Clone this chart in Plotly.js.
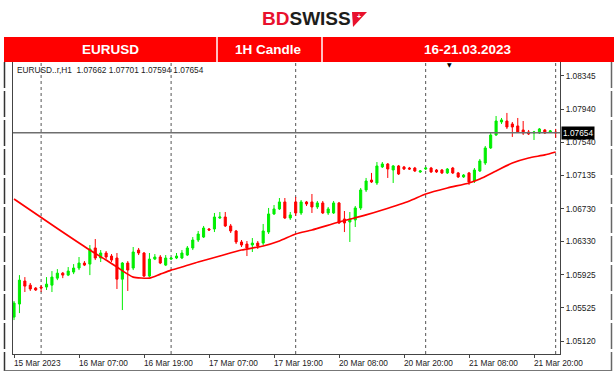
<!DOCTYPE html>
<html><head><meta charset="utf-8">
<script src="https://cdn.plot.ly/plotly-3.0.1.min.js"></script>
<style>html,body{margin:0;padding:0;background:#fff;} #chart{width:616px;height:374px;}</style>
</head><body><div id="chart"></div>
<script>
// ---- data (EURUSD H1, bar index 0 = 15 Mar 19:00) ----
const symbolLabel = 'EURUSD..r,H1';
const openP = [
1.05411,1.05570,1.05850,1.05800,1.05764,1.05777,1.05777,1.05800,1.05885,1.05946,
1.05922,1.05959,1.06008,1.06069,1.06056,1.06252,1.06130,1.06191,1.06154,1.06130,
1.05873,1.06069,1.06008,1.06227,1.06191,1.05910,1.06117,1.06142,1.06044,1.06117,
1.06130,1.06130,1.06166,1.06252,1.06349,1.06385,1.06483,1.06483,1.06617,1.06629,
1.06520,1.06459,1.06325,1.06300,1.06288,1.06312,1.06312,1.06446,1.06666,1.06727,
1.06812,1.06617,1.06812,1.06678,1.06812,1.06812,1.06751,1.06800,1.06678,1.06678,
1.06800,1.06605,1.06568,1.06593,1.06739,1.06958,1.07079,1.07043,1.07238,1.07274,
1.07201,1.07250,1.07238,1.07225,1.07225,1.07177,1.07213,1.07225,1.07201,1.07201,
1.07165,1.07225,1.07165,1.07116,1.07165,1.07067,1.07189,1.07286,1.07469,1.07627,
1.07785,1.07797,1.07761,1.07737,1.07688,1.07664,1.07651,1.07651,1.07688,1.07664,
1.07662];
const highP = [
1.05607,1.05922,1.05898,1.05826,1.05777,1.05800,1.05898,1.05971,1.05995,1.05959,
1.06020,1.06056,1.06142,1.06093,1.06288,1.06361,1.06227,1.06215,1.06178,1.06191,
1.06081,1.06093,1.06264,1.06252,1.06203,1.06191,1.06178,1.06166,1.06166,1.06142,
1.06191,1.06227,1.06276,1.06385,1.06459,1.06520,1.06495,1.06678,1.06690,1.06690,
1.06544,1.06471,1.06349,1.06337,1.06373,1.06337,1.06544,1.06739,1.06775,1.06860,
1.06860,1.06690,1.06872,1.06836,1.06824,1.06909,1.06824,1.06824,1.06751,1.06824,
1.06812,1.06702,1.06690,1.06763,1.06982,1.07104,1.07165,1.07298,1.07298,1.07286,
1.07262,1.07262,1.07250,1.07238,1.07238,1.07201,1.07238,1.07238,1.07213,1.07213,
1.07225,1.07238,1.07177,1.07152,1.07177,1.07225,1.07335,1.07493,1.07651,1.07858,
1.07834,1.07895,1.07785,1.07834,1.07797,1.07688,1.07676,1.07712,1.07700,1.07688,
1.07701];
const lowP = [
1.05375,1.05460,1.05716,1.05729,1.05729,1.05716,1.05741,1.05716,1.05861,1.05885,
1.05910,1.05934,1.05983,1.06032,1.05922,1.06105,1.06081,1.06117,1.06081,1.05753,
1.05497,1.05729,1.05983,1.06166,1.05898,1.05898,1.06105,1.06056,1.06032,1.06105,
1.06117,1.06117,1.06154,1.06227,1.06325,1.06373,1.06459,1.06446,1.06605,1.06507,
1.06434,1.06300,1.06264,1.06154,1.06203,1.06240,1.06288,1.06422,1.06654,1.06714,
1.06605,1.06593,1.06641,1.06654,1.06763,1.06678,1.06727,1.06666,1.06654,1.06666,
1.06544,1.06446,1.06325,1.06507,1.06714,1.06933,1.07043,1.07019,1.07225,1.07104,
1.07043,1.07140,1.07201,1.07201,1.07177,1.07165,1.07201,1.07165,1.07165,1.07152,
1.07152,1.07152,1.07104,1.07104,1.07019,1.07043,1.07177,1.07262,1.07457,1.07615,
1.07761,1.07700,1.07603,1.07651,1.07627,1.07627,1.07566,1.07639,1.07639,1.07651,
1.07594];
const closeP = [
1.05582,1.05861,1.05788,1.05753,1.05741,1.05764,1.05812,1.05898,1.05946,1.05922,
1.05971,1.06008,1.06069,1.06044,1.06240,1.06130,1.06191,1.06142,1.06105,1.05873,
1.06069,1.05983,1.06203,1.06191,1.05910,1.06117,1.06142,1.06069,1.06130,1.06130,
1.06154,1.06191,1.06252,1.06349,1.06422,1.06495,1.06471,1.06629,1.06629,1.06520,
1.06459,1.06325,1.06288,1.06252,1.06312,1.06276,1.06459,1.06666,1.06727,1.06812,
1.06617,1.06654,1.06678,1.06812,1.06787,1.06751,1.06800,1.06678,1.06727,1.06800,
1.06556,1.06556,1.06605,1.06739,1.06958,1.07067,1.07055,1.07250,1.07274,1.07213,
1.07250,1.07152,1.07213,1.07213,1.07189,1.07189,1.07225,1.07177,1.07177,1.07165,
1.07213,1.07165,1.07116,1.07140,1.07055,1.07201,1.07311,1.07469,1.07627,1.07797,
1.07810,1.07724,1.07724,1.07664,1.07651,1.07639,1.07664,1.07700,1.07651,1.07676,
1.07654];

// moving average line, read at selected bars
const maIdx = [0, 8, 14, 17, 19, 21, 22, 25, 27, 29, 31, 34, 38, 42, 46, 49, 52, 55, 60, 65, 68, 73, 76, 80, 84, 86, 89, 92, 95, 98, 100];
const maVal = [1.06848, 1.06489, 1.06227, 1.06105, 1.06020, 1.05934, 1.05898, 1.05885, 1.05934, 1.05983, 1.06020, 1.06081, 1.06154, 1.06227, 1.06276, 1.06337, 1.06422, 1.06471, 1.06568, 1.06654, 1.06714, 1.06824, 1.06909, 1.06982, 1.07043, 1.07091, 1.07189, 1.07286, 1.07347, 1.07384, 1.07420];

// axes
const xTickIdx = [0, 12, 24, 36, 48, 60, 72, 84, 96];
const xTickLabels = ['15 Mar 2023','16 Mar 07:00','16 Mar 19:00','17 Mar 07:00','17 Mar 19:00','20 Mar 08:00','20 Mar 20:00','21 Mar 08:00','21 Mar 20:00'];
const yTickVals = [1.05120, 1.05525, 1.05925, 1.06330, 1.06730, 1.07135, 1.07540, 1.07940, 1.08345];
const dayStartIdx = [5, 29, 52, 76, 100];

const headerCells = ['EURUSD', '1H Candle', '16-21.03.2023'];

// ---- build ----
const barIdx = openP.map((_, i) => i);
const last = openP.length - 1;
const bidPrice = closeP[last];

const W = 616, H = 374, mL = 13, mR = 56, mT = 62, mB = 20;
const pw = W - mL - mR, ph = H - mT - mB;
const px = X => (X - mL) / pw;
const py = Y => (H - mB - Y) / ph;
const FONT = 'Liberation Sans, Arial, sans-serif';

const traces = [
  {
    type: 'candlestick', x: barIdx, open: openP, high: highP, low: lowP, close: closeP,
    increasing: {line: {color: '#00ee00', width: 1}, fillcolor: '#00ee00'},
    decreasing: {line: {color: '#ff0000', width: 1}, fillcolor: '#ff0000'},
    whiskerwidth: 0, hoverinfo: 'skip', showlegend: false
  },
  {
    type: 'scatter', mode: 'lines', x: maIdx, y: maVal,
    line: {color: '#ff0000', width: 1.7, shape: 'spline', smoothing: 0.6},
    hoverinfo: 'skip', showlegend: false
  }
];

const shapes = [];
dayStartIdx.forEach(d => shapes.push({
  type: 'line', xref: 'x', yref: 'paper', x0: d, x1: d, y0: 0, y1: 1,
  line: {color: '#555', width: 1, dash: 'dot'}, layer: 'below'
}));
shapes.push({type: 'line', xref: 'paper', yref: 'y', x0: 0, x1: 1, y0: bidPrice, y1: bidPrice,
  line: {color: '#6e6e6e', width: 1.5}, layer: 'above'});
// header red bar
shapes.push({type: 'rect', xref: 'paper', yref: 'paper', x0: px(4), x1: px(614), y0: py(62), y1: py(37),
  fillcolor: '#ff0000', line: {width: 0}});
[217, 322].forEach(X => shapes.push({type: 'line', xref: 'paper', yref: 'paper', x0: px(X), x1: px(X), y0: py(62), y1: py(37),
  line: {color: '#ffffff', width: 1.5}}));
// outer frame
shapes.push({type: 'line', xref: 'paper', yref: 'paper', x0: px(4.5), x1: px(4.5), y0: py(62), y1: py(371),
  line: {color: '#333', width: 1.5, dash: '26px,3px'}});
shapes.push({type: 'line', xref: 'paper', yref: 'paper', x0: px(611.5), x1: px(611.5), y0: py(62), y1: py(371),
  line: {color: '#666', width: 1.5, dash: '26px,3px'}});
shapes.push({type: 'line', xref: 'paper', yref: 'paper', x0: px(4.5), x1: px(611.5), y0: py(370.5), y1: py(370.5),
  line: {color: '#777', width: 1.2}});
// logo flag
shapes.push({type: 'path', xref: 'paper', yref: 'paper',
  path: `M ${px(352)} ${py(12)} L ${px(367)} ${py(12)} L ${px(353)} ${py(27)} Z`,
  fillcolor: '#e8112d', line: {width: 0}});

const annotations = [];
xTickIdx.forEach((t, i) => annotations.push({
  xref: 'x', yref: 'paper', x: t, y: py(362.5), text: xTickLabels[i], showarrow: false,
  xanchor: 'left', yanchor: 'middle', xshift: -2, font: {family: FONT, size: 8.3, color: '#222'}
}));
annotations.push({xref: 'paper', yref: 'y', x: 1, y: bidPrice, text: bidPrice.toFixed(5), showarrow: false,
  xanchor: 'left', yanchor: 'middle', xshift: 1, bgcolor: '#000', borderpad: 1,
  font: {family: FONT, size: 8.3, color: '#fff'}});
annotations.push({xref: 'paper', yref: 'paper', x: px(15), y: py(70.5), showarrow: false,
  xanchor: 'left', yanchor: 'middle',
  text: symbolLabel + '\u00a0\u00a0' + [openP[last], highP[last], lowP[last], closeP[last]].map(v => v.toFixed(5)).join(' '),
  font: {family: FONT, size: 8.3, color: '#222'}});
annotations.push({xref: 'paper', yref: 'paper', x: px(449), y: py(64.5), text: '▼', showarrow: false,
  xanchor: 'center', yanchor: 'middle', font: {family: 'DejaVu Sans', size: 6, color: '#000'}});
const headerX = [110, 268, 468];
headerCells.forEach((t, i) => annotations.push({
  xref: 'paper', yref: 'paper', x: px(headerX[i]), y: py(49.5), text: '<b>' + t + '</b>', showarrow: false,
  xanchor: 'center', yanchor: 'middle', font: {family: FONT, size: 13.5, color: '#fff'}
}));
annotations.push({xref: 'paper', yref: 'paper', x: px(306), y: py(18.5), showarrow: false,
  xanchor: 'center', yanchor: 'middle',
  text: '<b><span style="color:#e8112d">BD</span><span style="color:#1d1d1b">SWISS</span></b>',
  font: {family: FONT, size: 19, color: '#1d1d1b'}});
annotations.push({xref: 'paper', yref: 'paper', x: px(358.5), y: py(17), text: '<b>+</b>', showarrow: false,
  xanchor: 'center', yanchor: 'middle', font: {family: FONT, size: 7, color: '#fff'}});

const layout = {
  width: W, height: H,
  margin: {l: mL, r: mR, t: mT, b: mB, pad: 0},
  paper_bgcolor: '#fff', plot_bgcolor: '#fff',
  showlegend: false, boxgap: 0.45,
  xaxis: {
    type: 'linear', range: [-0.19, 100.8], showgrid: false, zeroline: false,
    showline: true, linecolor: '#444', linewidth: 1,
    tickmode: 'array', tickvals: xTickIdx, ticks: 'outside', ticklen: 3, tickcolor: '#444',
    showticklabels: false, rangeslider: {visible: false}, fixedrange: true
  },
  yaxis: {
    side: 'right', range: [1.04962, 1.08515], showgrid: false, zeroline: false,
    showline: true, mirror: true, linecolor: '#444', linewidth: 1,
    tickmode: 'array', tickvals: yTickVals, ticktext: yTickVals.map(v => v.toFixed(5)),
    ticks: 'outside', ticklen: 3, tickcolor: '#444',
    tickfont: {family: FONT, size: 8.3, color: '#222'}, fixedrange: true
  },
  shapes: shapes,
  annotations: annotations
};

Plotly.newPlot('chart', traces, layout, {staticPlot: true, displayModeBar: false});
</script></body></html>
